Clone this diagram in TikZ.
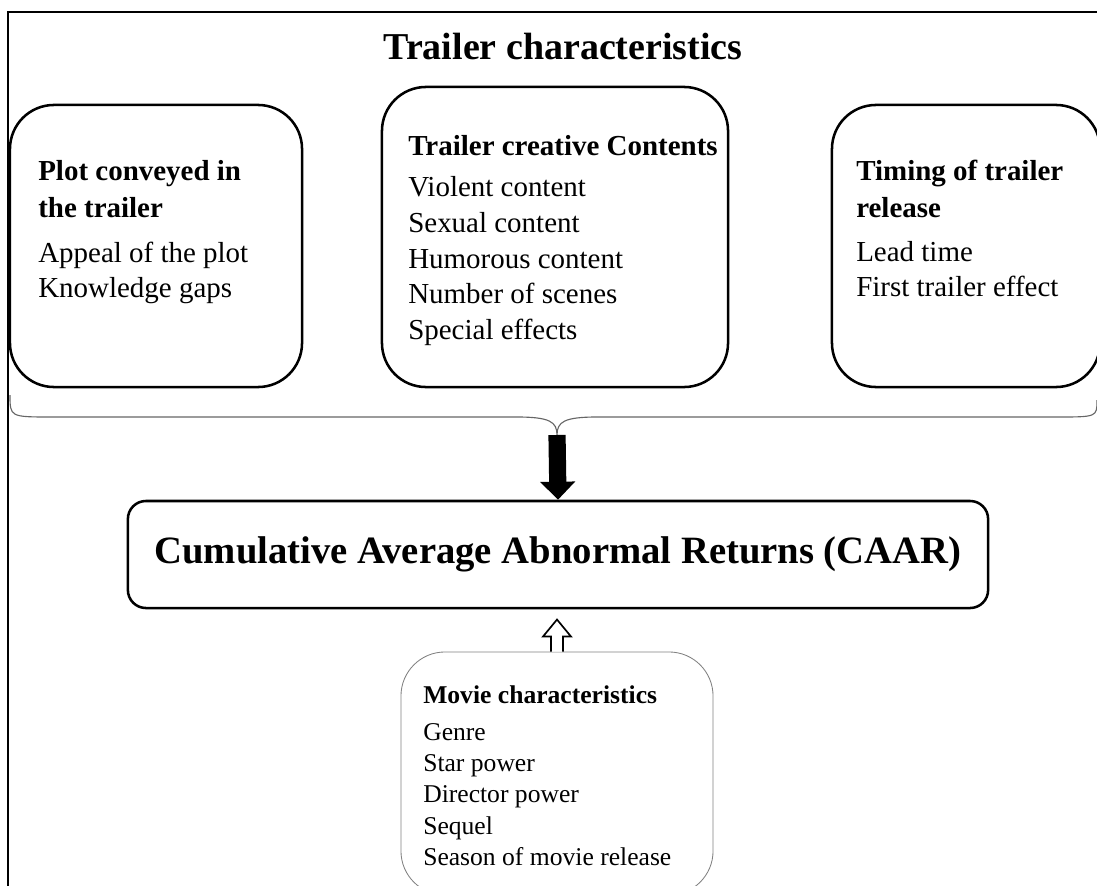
\documentclass[tikz,border=0pt]{standalone}
\usepackage{fontspec}
\setmainfont{Liberation Serif}
\usetikzlibrary{arrows.meta}

\begin{document}
\begin{tikzpicture}[x=0.025cm, y=-0.025cm,
	box/.style={draw, line width=1.8pt, rounded corners=11mm, inner sep=0},
	item/.style={anchor=base west, inner sep=0, font=\fontsize{20.6}{24}\selectfont},
	heading/.style={item, font=\fontsize{20.6}{24}\selectfont\bfseries},
	small/.style={item, font=\fontsize{18.2}{22}\selectfont}]
	\useasboundingbox (0,0) rectangle (1097,886);
	%frame
	\draw[line width=1.2pt] (8,900) -- (8,12) -- (1110,12);
	\node[anchor=base, inner sep=0, font=\fontsize{27}{32}\selectfont\bfseries] (title) at (563,60) {Trailer characteristics};
	
	%trailer boxes
	\node[box, minimum width=73mm, minimum height=70.5mm] (plot) at (156,246) {};
	\node[box, minimum width=86.5mm, minimum height=75mm] (creative) at (555,237) {};
	\node[box, minimum width=67mm, minimum height=70.5mm] (timing) at (966,246) {};
	
	%plot
	\node[heading] (plot1) at (38,181) {Plot conveyed in};
	\node[heading] (plot2) at (38,217) {the trailer};
	\node[item] (plot3) at (38,262) {Appeal of the plot};
	\node[item] (plot4) at (38,297) {Knowledge gaps};
	
	%creative contents
	\node[heading] (cc0) at (408,156) {Trailer creative Contents};
	\foreach \t [count=\i] in {Violent content, Sexual content, Humorous content, Number of scenes, Special effects}
		\node[item] (cc\i) at (408,161.5+35.5*\i) {\t};
	
	%timing
	\node[heading] (time1) at (856,181) {Timing of trailer};
	\node[heading] (time2) at (856,217) {release};
	\node[item] (time3) at (856,261) {Lead time};
	\node[item] (time4) at (856,296) {First trailer effect};
	
	%brace
	\coordinate (bl) at (10,395);
	\coordinate (br) at (1097,400);
	\coordinate (btip) at (557,435);
	\draw[gray!80!black, line width=0.8pt] (bl) .. controls (10,417) and (10,417) .. (52,417) -- (517,417)
		.. controls (550,417) and (557,422) .. (btip)
		.. controls (557,422) and (564,417) .. (597,417) -- (1057,417)
		.. controls (1097,417) and (1097,417) .. (br);
	
	%CAAR
	\node[box, rounded corners=4.5mm, minimum width=215mm, minimum height=26.75mm,
		font=\fontsize{27.5}{32}\selectfont\bfseries] (caar) at (558,554.5) {Cumulative Average Abnormal Returns (CAAR)};
	\draw[line width=4.3mm, -{Triangle[width=8.5mm,length=4.5mm]}] (btip) -- (caar.north);
	
	%movie characteristics
	\node[draw=gray, line width=0.6pt, rounded corners=11mm, minimum width=78mm, minimum height=60.75mm] (movie) at (557,773.5) {};
	\draw[line width=1.2pt, fill=white] (movie.north) ++(-6,0) -- ++(0,-15) -- ++(-8,0) -- ++(14,-17) -- ++(14,17) -- ++(-8,0) -- ++(0,15);
	\node[small, font=\fontsize{18.2}{22}\selectfont\bfseries] (mc0) at (423,703) {Movie characteristics};
	\foreach \t [count=\i] in {Genre, Star power, Director power, Sequel, Season of movie release}
		\node[small] (mc\i) at (423,709+31.3*\i) {\t};
\end{tikzpicture}
\end{document}
